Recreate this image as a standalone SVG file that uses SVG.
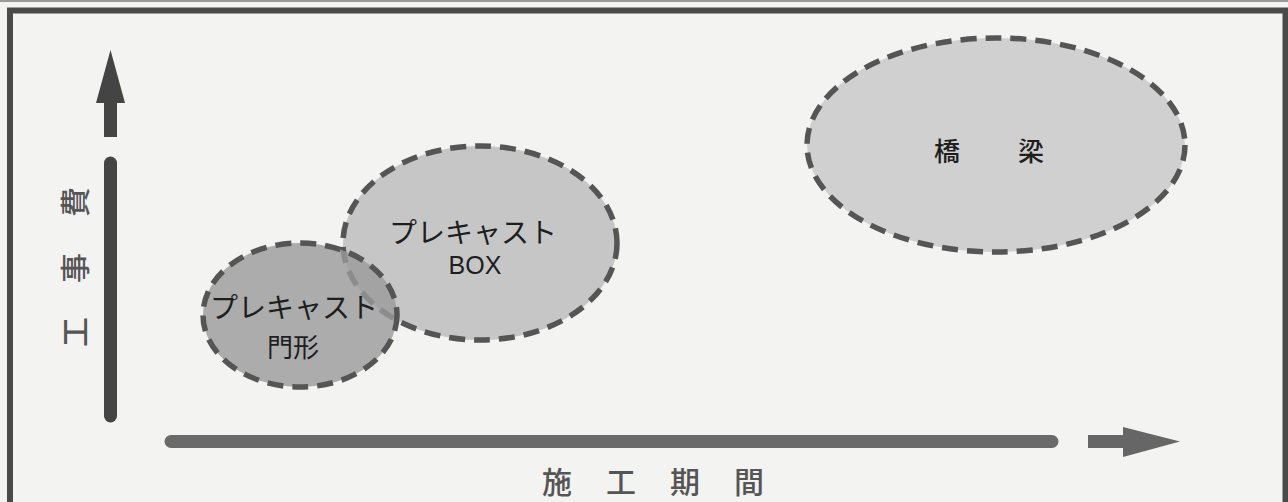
<svg xmlns="http://www.w3.org/2000/svg" width="1288" height="502" viewBox="0 0 1288 502">
<style>
.bg{fill:#f3f3f2}
.frame{fill:none;stroke:#4a4a4a;stroke-width:6}
.ell{stroke:#555;stroke-width:5.5;stroke-dasharray:16 9}
.lbl{font-family:"Liberation Sans","Noto Sans CJK JP",sans-serif;fill:#1e1e1e;text-anchor:middle}
.ax{font-family:"Noto Sans CJK JP",sans-serif;fill:#555;font-size:30px;font-weight:500;text-anchor:middle}
</style>
<rect class="bg" x="0" y="0" width="1288" height="502"/>
<line x1="0" y1="1" x2="1288" y2="1" stroke="#9a9a9a" stroke-width="2"/>
<rect class="frame" x="10" y="10.5" width="1275.5" height="520"/>
<g id="connectors">
  <line x1="110.5" y1="163" x2="110.5" y2="416" stroke="#444" stroke-width="13" stroke-linecap="round"/>
  <polygon points="104,137 117,137 117,103 125,103 110.5,50 96,103 104,103" fill="#444"/>
  <line x1="171" y1="441.5" x2="1052" y2="441.5" stroke="#6a6a6a" stroke-width="13" stroke-linecap="round"/>
  <polygon points="1088,435 1123,435 1123,427 1180,441.5 1123,457 1123,448 1088,448" fill="#666"/>
</g>
<g id="axis-y">
  <text class="ax" transform="translate(86,332) rotate(-90)">工</text>
  <text class="ax" transform="translate(86,268) rotate(-90)">事</text>
  <text class="ax" transform="translate(86,202) rotate(-90)">費</text>
</g>
<g id="axis-x">
  <text class="ax" x="557" y="493">施</text>
  <text class="ax" x="621" y="493">工</text>
  <text class="ax" x="685" y="493">期</text>
  <text class="ax" x="749" y="493">間</text>
</g>
<g id="node-kyoryo">
  <ellipse class="ell" cx="996" cy="145" rx="189" ry="107" fill="#d0d0d0"/>
  <text class="lbl" x="947" y="161" font-size="26" font-weight="500" font-family="Noto Sans CJK JP">橋</text>
  <text class="lbl" x="1031" y="161" font-size="26" font-weight="500" font-family="Noto Sans CJK JP">梁</text>
</g>
<g id="node-box">
  <ellipse class="ell" cx="480" cy="243" rx="137" ry="97" fill="#c6c6c6"/>
  <text class="lbl" x="473" y="243" font-size="28">プレキャスト</text>
  <text class="lbl" x="475" y="274" font-size="25">BOX</text>
</g>
<g id="node-mongata">
  <ellipse class="ell" cx="300" cy="315" rx="97" ry="72" fill="#9a9a9a" fill-opacity="0.8"/>
  <text class="lbl" x="294" y="318" font-size="28">プレキャスト</text>
  <text class="lbl" x="293" y="357" font-size="26">門形</text>
</g>
</svg>
